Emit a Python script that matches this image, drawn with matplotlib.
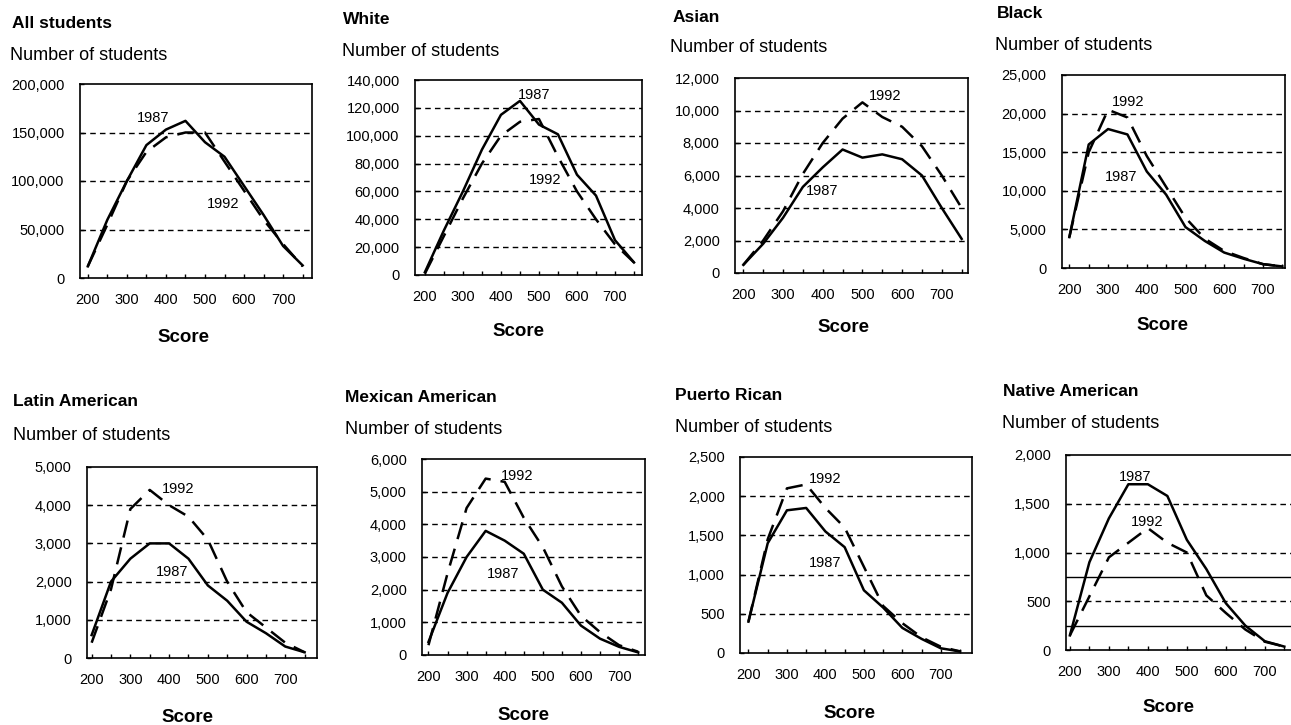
import matplotlib
matplotlib.use("Agg")
import matplotlib.pyplot as plt
from matplotlib.ticker import FuncFormatter

plt.rcParams['font.family'] = ['Liberation Sans', 'DejaVu Sans']

scores = [200, 250, 300, 350, 400, 450, 500, 550, 600, 650, 700, 750]

all_1987 = [12000, 60000, 100000, 137000, 153000, 162000, 140000, 125000, 95000, 65000, 33000, 13000]
all_1992 = [12000, 55000, 100000, 130000, 145000, 150000, 150000, 120000, 90000, 60000, 35000, 12000]
white_1987 = [2000, 32000, 60000, 90000, 115000, 125000, 108000, 101000, 72000, 57000, 25000, 9000]
white_1992 = [1000, 28000, 55000, 80000, 100000, 110000, 112000, 85000, 60000, 40000, 22000, 9000]
asian_1987 = [500, 1800, 3400, 5300, 6500, 7600, 7100, 7300, 7000, 6000, 4000, 2100]
asian_1992 = [500, 2000, 3800, 6100, 8000, 9500, 10500, 9600, 9000, 7800, 6000, 4000]
black_1987 = [4000, 16000, 18000, 17300, 12500, 9500, 5300, 3500, 2000, 1200, 500, 200]
black_1992 = [4000, 15000, 20500, 19500, 14500, 10500, 6500, 3800, 2200, 1300, 500, 200]
latin_1987 = [600, 2000, 2600, 3000, 3000, 2600, 1900, 1500, 950, 650, 300, 150]
latin_1992 = [400, 1800, 3900, 4400, 4000, 3700, 3100, 2000, 1200, 800, 400, 150]
mexican_1987 = [400, 1900, 3000, 3800, 3500, 3100, 2000, 1600, 900, 500, 250, 80]
mexican_1992 = [300, 2500, 4500, 5400, 5300, 4200, 3300, 2100, 1200, 700, 300, 100]
puerto_1987 = [400, 1400, 1820, 1850, 1550, 1350, 800, 580, 320, 180, 60, 20]
puerto_1992 = [400, 1450, 2100, 2150, 1850, 1600, 1100, 600, 380, 200, 80, 20]
native_1987 = [150, 900, 1350, 1700, 1700, 1580, 1130, 830, 480, 250, 90, 35]
native_1992 = [150, 550, 950, 1100, 1250, 1100, 1000, 560, 380, 210, 85, 35]

titles = ["All students", "White", "Asian", "Black",
          "Latin American", "Mexican American", "Puerto Rican", "Native American"]
series_1987 = [all_1987, white_1987, asian_1987, black_1987,
               latin_1987, mexican_1987, puerto_1987, native_1987]
series_1992 = [all_1992, white_1992, asian_1992, black_1992,
               latin_1992, mexican_1992, puerto_1992, native_1992]
y_max = [200000, 140000, 12000, 25000, 5000, 6000, 2500, 2000]
y_step = [50000, 20000, 2000, 5000, 1000, 1000, 500, 500]
# label positions (score, count) for the year annotations
lab_1987 = [(367, 165000), (487, 129000), (399, 5030), (335, 11740),
            (407, 2260), (397, 2470), (399, 1145), (367, 1776)]
lab_1992 = [(546, 76000), (516, 68000), (556, 10870), (352, 21520),
            (424, 4435), (432, 5490), (399, 2215), (397, 1317)]

W, H = 1291, 725
# axes box in pixels: left, right, top, bottom
boxes = [(80, 312, 84, 278), (415, 642, 80, 275), (735, 968, 78, 273), (1062, 1285, 75, 268),
         (87, 317, 467, 658), (422, 645, 459, 655), (740, 972, 457, 653), (1066, 1296, 455, 650)]
xlims = [(180, 774), (174, 771), (179, 766), (181, 757),
         (188, 782), (183, 768), (178, 781), (190, 780)]
# title / y-label / Score positions in pixels
title_pos = [(12, 23), (343, 20), (673, 17), (997, 13),
             (13, 402), (345, 398), (675, 395), (1003, 392)]
ylab_pos = [(10, 55), (342, 52), (670, 47), (995, 45),
            (13, 435), (345, 430), (675, 427), (1002, 423)]
score_pos = [(183, 337), (518, 332), (843, 328), (1162, 325),
             (187, 718), (523, 715), (849, 713), (1168, 708)]

fig = plt.figure(figsize=(W / 100, H / 100), dpi=100)

for i in range(8):
    l, r, t, b = boxes[i]
    ax = fig.add_axes([l / W, 1 - b / H, (r - l) / W, (b - t) / H])
    ax.plot(scores, series_1987[i], color='black', lw=1.8, solid_joinstyle='round')
    ax.plot(scores, series_1992[i], color='black', lw=1.8, dashes=(7, 4))
    ax.set_xlim(*xlims[i])
    ax.set_ylim(0, y_max[i])
    yt = list(range(0, y_max[i] + 1, y_step[i]))
    ax.set_yticks(yt)
    for v in yt[1:-1]:
        ax.axhline(v, color='black', lw=1.0, dashes=(4, 3), zorder=0)
    if i == 7:
        # stray solid rules in the scanned panel
        ax.axhline(750, color='black', lw=1.0, zorder=0)
        ax.axhline(250, color='black', lw=1.0, zorder=0)
    ax.yaxis.set_major_formatter(FuncFormatter(lambda v, p: f"{int(v):,}"))
    ax.set_xticks([200, 300, 400, 500, 600, 700])
    ax.set_xticks([250, 350, 450, 550, 650, 750], minor=True)
    ax.tick_params(axis='both', which='both', direction='in', labelsize=10.5,
                   length=3, width=1, pad=11)
    ax.tick_params(axis='y', which='minor', left=False)
    for s in ax.spines.values():
        s.set_linewidth(1.2)
    ax.text(*lab_1987[i], "1987", fontsize=10.5, ha='center', va='center')
    ax.text(*lab_1992[i], "1992", fontsize=10.5, ha='center', va='center')

    fig.text(title_pos[i][0] / W, 1 - title_pos[i][1] / H, titles[i],
             fontsize=12.5, fontweight='bold', ha='left', va='center')
    fig.text(ylab_pos[i][0] / W, 1 - ylab_pos[i][1] / H, "Number of students",
             fontsize=13, ha='left', va='center')
    fig.text(score_pos[i][0] / W, 1 - score_pos[i][1] / H, "Score",
             fontsize=13.5, fontweight='bold', ha='center', va='center')

fig.savefig("out.png", dpi=100)
